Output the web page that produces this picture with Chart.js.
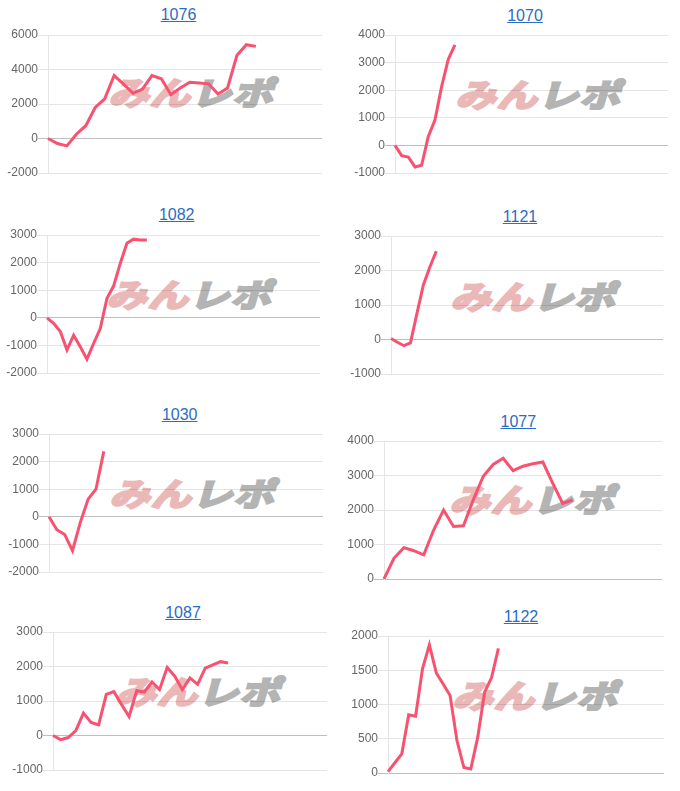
<!DOCTYPE html>
<html>
<head>
<meta charset="utf-8">
<script src="https://cdn.jsdelivr.net/npm/chart.js@4"></script>
<style>
  html, body { margin:0; padding:0; background:#fff; }
  body { width:680px; height:791px; position:relative; overflow:hidden; font-family:"Liberation Sans", Arial, sans-serif; }
  .ttl { position:absolute; width:120px; text-align:center; font-size:16px; line-height:20px; }
  .ttl a { color:#2b6cc4; text-decoration:underline; }
  .wm { position:absolute; width:176px; height:32px; font-family:"Noto Sans CJK JP", sans-serif; font-weight:700;
        font-size:38px; line-height:32px; letter-spacing:1px; white-space:nowrap; transform:skewX(-16deg) scale(1.06, 0.84); z-index:0; text-align:center; }
  .wm .p { color:#ebb8b8; -webkit-text-stroke:3px #ebb8b8; }
  .wm .g { color:#b4b4b4; -webkit-text-stroke:3px #b4b4b4; }
  canvas { position:absolute; z-index:1; }
</style>
</head>
<body>
<script>
// ---- data ----
const titles = ["1076", "1070", "1082", "1121", "1030", "1077", "1087", "1122"];
const gameLabels = [1,2,3,4,5,6,7,8,9,10,11,12,13,14,15,16,17,18,19,20,21,22,23,24,25,26,27,28,29,30,31,32,33,34,35,36,37,38,39,40,41,42,43];
const labelCounts = [30, 42, 42, 43, 36, 29, 37, 41];

const values1076 = [0, -290, -430, 250, 740, 1800, 2300, 3650, 3150, 2620, 2870, 3650, 3460, 2540, 2930, 3260, 3220, 3170, 2580, 2930, 4820, 5440, 5340];
const values1070 = [0, -370, -420, -780, -720, 320, 920, 2130, 3120, 3640];
const values1082 = [0, -200, -500, -1170, -630, -1050, -1500, -930, -390, 700, 1150, 1970, 2700, 2850, 2820, 2820];
const values1121 = [30, -80, -180, -100, 750, 1580, 2100, 2560];
const values1030 = [0, -470, -640, -1230, -200, 640, 1000, 2370];
const values1077 = [0, 600, 910, 820, 700, 1420, 2000, 1520, 1540, 2300, 2980, 3320, 3500, 3140, 3270, 3340, 3390, 2770, 2190, 2290];
const values1087 = [0, -120, -60, 140, 650, 380, 310, 1190, 1270, 900, 550, 1300, 1260, 1550, 1330, 1970, 1720, 1330, 1670, 1480, 1950, 2050, 2140, 2100];
const values1122 = [20, 150, 280, 850, 830, 1520, 1870, 1460, 1300, 1130, 470, 80, 60, 520, 1180, 1390, 1820];

const yMins  = [-2000, -1000, -2000, -1000, -2000, 0, -1000, 0];
const yMaxs  = [6000, 4000, 3000, 3000, 3000, 4000, 3000, 2000];
const ySteps = [2000, 1000, 1000, 1000, 1000, 1000, 1000, 500];

const seriesList = [values1076, values1070, values1082, values1121, values1030, values1077, values1087, values1122];

// ---- layout (positions only) ----
// plot boxes: [left, top, right, bottom]
const plotBoxes = [
  [48, 35, 322, 173],
  [395, 35, 668, 173],
  [47, 235, 320, 373],
  [391, 236, 663, 374],
  [49, 434, 323, 572],
  [384, 441, 662, 579],
  [53, 632, 327, 770],
  [388, 636, 664, 773]
];
const titleCenters = [[178.5,15],[525,15.5],[176.7,214.5],[520,216.7],[179.7,414.5],[518.3,422],[183,613],[521,616.5]];
const markCenters = [[195,93],[542,95],[193,295],[537,297],[196,494],[536,500],[202,692],[539,696]];

const AXIS_W = 48, PAD_V = 8;
const lineColor = 'rgb(248, 82, 112)';

titles.forEach((t, i) => {
  const [cx, cy] = titleCenters[i];
  const d = document.createElement('div');
  d.className = 'ttl';
  d.style.left = (cx - 60) + 'px';
  d.style.top = (cy - 9.8) + 'px';
  d.innerHTML = '<a href="#">' + t + '</a>';
  document.body.appendChild(d);

  const [mx, my] = markCenters[i];
  const w = document.createElement('div');
  w.className = 'wm';
  w.style.left = (mx - 88) + 'px';
  w.style.top = (my - 17) + 'px';
  w.innerHTML = '<span class="p">みん</span><span class="g">レポ</span>';
  document.body.appendChild(w);

  const [pl, pt, pr, pb] = plotBoxes[i];
  const c = document.createElement('canvas');
  const left = pl - AXIS_W, top = pt - PAD_V;
  const width = pr - left, height = (pb - pt) + 2 * PAD_V;
  c.width = width; c.height = height;
  c.style.left = left + 'px'; c.style.top = top + 'px';
  c.style.width = width + 'px'; c.style.height = height + 'px';
  document.body.appendChild(c);

  new Chart(c, {
    type: 'line',
    data: {
      labels: gameLabels.slice(0, labelCounts[i]),
      datasets: [{
        data: seriesList[i],
        borderColor: lineColor,
        backgroundColor: lineColor,
        borderWidth: 3,
        pointRadius: 0,
        tension: 0,
        fill: false
      }]
    },
    options: {
      responsive: false,
      animation: false,
      devicePixelRatio: 1,
      events: [],
      layout: { padding: 0 },
      plugins: { legend: { display: false }, tooltip: { enabled: false } },
      scales: {
        x: { display: false },
        y: {
          min: yMins[i], max: yMaxs[i],
          afterFit: (s) => { s.width = AXIS_W; },
          ticks: {
            stepSize: ySteps[i],
            color: '#666',
            padding: 0,
            callback: (v) => String(v),
            font: { family: '"Liberation Sans", Arial, sans-serif', size: 12, lineHeight: 16 / 12 }
          },
          grid: {
            tickLength: 10,
            color: (ctx) => (ctx.tick && ctx.tick.value === 0) ? 'rgba(0,0,0,0.25)' : 'rgba(0,0,0,0.1)'
          },
          border: { display: true, color: 'rgba(0,0,0,0.1)' }
        }
      }
    }
  });
});
</script>
</body>
</html>
